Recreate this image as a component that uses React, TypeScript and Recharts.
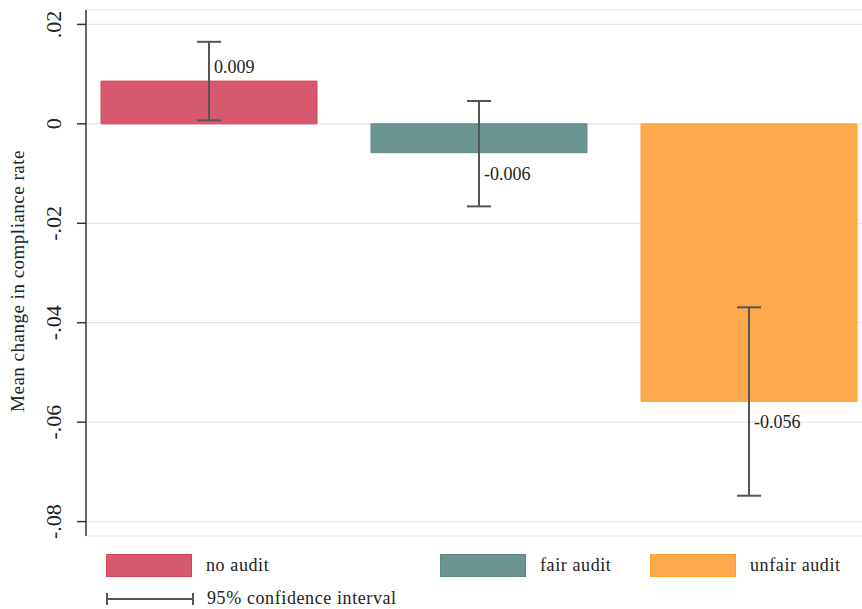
import React from 'react';
import {
  ComposedChart, Bar, XAxis, YAxis, CartesianGrid, ErrorBar, Cell, LabelList,
} from 'recharts';

const groups = ['no audit', 'fair audit', 'unfair audit'];
const means = [0.0086, -0.0058, -0.0558];
const ciLow = [0.0007, -0.0166, -0.0748];
const ciHigh = [0.0165, 0.0046, -0.0369];
const fills = ['#d6596f', '#6a9591', '#ffa94c'];
const strokes = ['#d2445f', '#5c8a86', '#ffa030'];
const yTicks = [-0.08, -0.06, -0.04, -0.02, 0, 0.02];

const data = groups.map((g, i) => ({
  name: g,
  mean: means[i],
  err: [means[i] - ciLow[i], ciHigh[i] - means[i]],
}));

const FONT = '"Liberation Serif", "Times New Roman", serif';

function fmtTick(v: number) {
  if (v === 0) return '0';
  return v.toFixed(2).replace('0.', '.');
}

function RotTick(props: any) {
  const { x, y, payload } = props;
  return (
    <text
      x={x - 14}
      y={y}
      transform={`rotate(-90, ${x - 14}, ${y})`}
      textAnchor="middle"
      fontSize={22}
      fontFamily={FONT}
      fill="#222"
    >
      {fmtTick(payload.value)}
    </text>
  );
}

function YTitle(props: any) {
  const vb = props.viewBox || { y: 10, height: 526 };
  const cx = 24;
  const cy = vb.y + vb.height / 2 + 8;
  return (
    <text
      x={cx}
      y={cy}
      transform={`rotate(-90, ${cx}, ${cy})`}
      textAnchor="middle"
      fontSize={19}
      fontFamily={FONT}
      fill="#222"
      letterSpacing={0.5}
    >
      Mean change in compliance rate
    </text>
  );
}

function ValueLabel(props: any) {
  const { x, y, width, height, value } = props;
  const top = Math.min(y, y + height);
  const bottom = Math.max(y, y + height);
  const cx = x + width / 2;
  const ty = value >= 0 ? top - 8 : bottom + 27;
  return (
    <text x={cx + 5} y={ty} fontSize={18} fontFamily={FONT} fill="#222">
      {Number(value).toFixed(3)}
    </text>
  );
}

function LegendBox() {
  const item = (i: number, left: number) => (
    <div key={i} style={{ position: 'absolute', left, top: 554, display: 'flex', alignItems: 'center' }}>
      <div style={{ width: 84, height: 21, background: fills[i], border: `1px solid ${strokes[i]}` }} />
      <span style={{ marginLeft: 14, fontSize: 18, fontFamily: FONT, color: '#222', letterSpacing: 0.6 }}>{groups[i]}</span>
    </div>
  );
  return (
    <>
      {item(0, 106)}
      {item(1, 440)}
      {item(2, 650)}
      <div style={{ position: 'absolute', left: 106, top: 588, display: 'flex', alignItems: 'center' }}>
        <svg width={88} height={20}>
          <line x1={1} y1={4} x2={1} y2={16} stroke="#555" strokeWidth={2} />
          <line x1={1} y1={10} x2={87} y2={10} stroke="#555" strokeWidth={2} />
          <line x1={87} y1={4} x2={87} y2={16} stroke="#555" strokeWidth={2} />
        </svg>
        <span style={{ marginLeft: 13, fontSize: 18, fontFamily: FONT, color: '#222', letterSpacing: 0.6 }}>
          95% confidence interval
        </span>
      </div>
    </>
  );
}

export default function App() {
  return (
    <div style={{ position: 'absolute', left: 0, top: 0, width: 862, height: 609, background: '#fff' }}>
      <ComposedChart
        width={862}
        height={609}
        data={data}
        margin={{ top: 10, right: 0, bottom: 73, left: 0 }}
        barCategoryGap={27}
      >
        <CartesianGrid horizontal vertical={false} stroke="#e6e6e6" strokeWidth={1.2} />
        <XAxis dataKey="name" hide padding={{ left: -12, right: -22 }} />
        <YAxis
          width={86}
          domain={[-0.0829, 0.0229]}
          ticks={yTicks}
          type="number"
          allowDataOverflow
          tick={<RotTick />}
          tickSize={9}
          tickLine={{ stroke: '#333', strokeWidth: 1.5 }}
          axisLine={{ stroke: '#333', strokeWidth: 1.5 }}
          label={{ content: <YTitle /> }}
        />
        <Bar dataKey="mean" isAnimationActive={false}>
          {data.map((d, i) => (
            <Cell key={d.name} fill={fills[i]} stroke={strokes[i]} strokeWidth={1} />
          ))}
          <ErrorBar dataKey="err" direction="y" width={12} stroke="#555" strokeWidth={2} isAnimationActive={false} />
          <LabelList dataKey="mean" content={<ValueLabel />} />
        </Bar>
      </ComposedChart>
      <LegendBox />
    </div>
  );
}
